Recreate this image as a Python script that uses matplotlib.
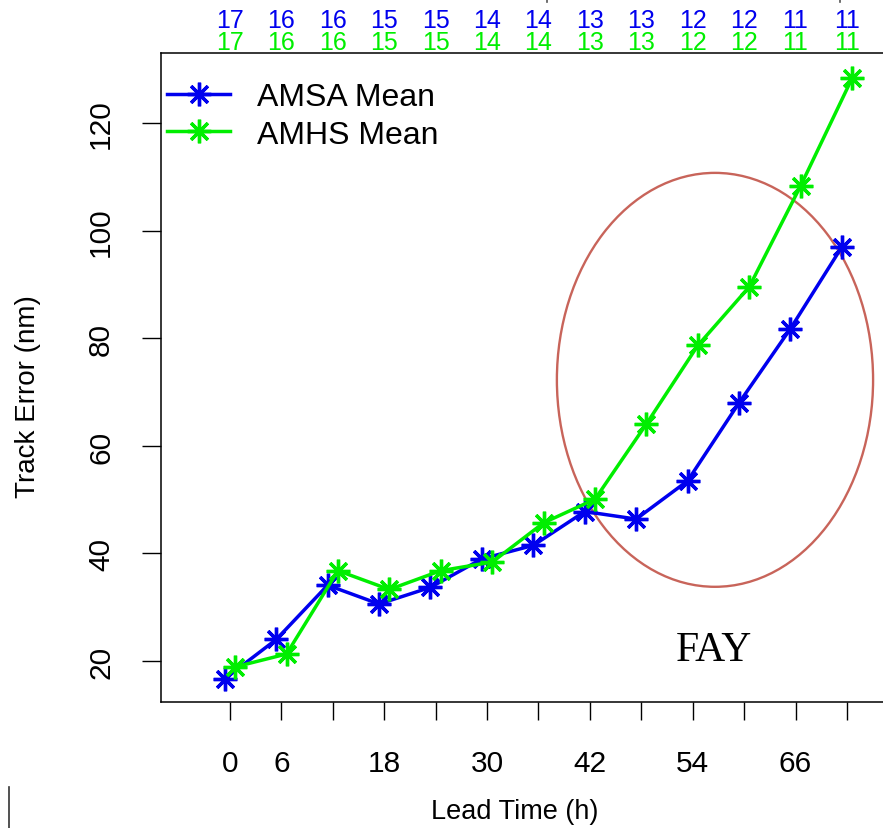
import matplotlib
matplotlib.use("Agg")
import matplotlib.pyplot as plt
import numpy as np
from matplotlib.patches import Ellipse
from matplotlib.lines import Line2D

plt.rcParams['font.family'] = ['Liberation Sans', 'DejaVu Sans']

# data
lead_time = [0, 6, 12, 18, 24, 30, 36, 42, 48, 54, 60, 66, 72]
amsa_mean = [16.7, 24.0, 34.1, 30.6, 33.7, 39.0, 41.5, 47.8, 46.4, 53.5, 68.0, 81.8, 97.0]
amhs_mean = [18.9, 21.3, 36.8, 33.3, 36.8, 38.4, 45.7, 50.1, 64.1, 78.7, 89.6, 108.4, 128.4]
amsa_count = [17, 16, 16, 15, 15, 14, 14, 13, 13, 12, 12, 11, 11]
amhs_count = [17, 16, 16, 15, 15, 14, 14, 13, 13, 12, 12, 11, 11]
xtick_labels = {0: "0", 6: "6", 18: "18", 30: "30", 42: "42", 54: "54", 66: "66"}
yticks = [20, 40, 60, 80, 100, 120]

blue = "#0000ee"
green = "#00ee00"

W, H = 883, 829
fig = plt.figure(figsize=(W / 100, H / 100), dpi=100)
# axes box: left at 161 px, bottom at 703 px, top at 54 px, right runs past the edge
xlo, xhi = -8.05, 80.0
px_per_h = 8.569
ax_w = (xhi - xlo) * px_per_h
ax_h = 703 - 54
ax = fig.add_axes([161 / W, (H - 703) / H, ax_w / W, ax_h / H])
ax.set_xlim(xlo, xhi)
ax.set_ylim(12.37, 133.1)

x = np.array(lead_time)
star = (8, 2, 0)
ax.plot(x - 0.6, amsa_mean, color=blue, lw=2.5, marker=star, ms=17, mew=2.4,
        label="AMSA Mean", clip_on=False)
ax.plot(x + 0.6, amhs_mean, color=green, lw=2.5, marker=star, ms=17, mew=2.4,
        label="AMHS Mean", clip_on=False)

# highlight ellipse + storm name
ell = Ellipse((56.6, 72.3), 36.9, 77.0, fill=False, edgecolor="#c8645a", lw=1.7)
ax.add_patch(ell)
ax.text(56.5, 22.0, "FAY", family="Liberation Serif", fontsize=30,
        ha="center", va="center")

# sample counts above the plot
for xi, nb, ng in zip(lead_time, amsa_count, amhs_count):
    ax.annotate(str(nb), xy=(xi, 1), xycoords=("data", "axes fraction"),
                xytext=(0, (54 - 20.5) * 0.72), textcoords="offset points",
                ha="center", va="center", color=blue, fontsize=18, annotation_clip=False)
    ax.annotate(str(ng), xy=(xi, 1), xycoords=("data", "axes fraction"),
                xytext=(0, (54 - 42.5) * 0.72), textcoords="offset points",
                ha="center", va="center", color=green, fontsize=18, annotation_clip=False)

ax.set_xticks(lead_time)
ax.set_xticklabels([xtick_labels.get(t, "") for t in lead_time])
ax.set_yticks(yticks)
ax.set_yticklabels([str(v) for v in yticks], rotation=90, va="center")
ax.tick_params(axis="x", direction="out", length=13, width=1, pad=21, labelsize=21.5)
ax.tick_params(axis="y", direction="out", length=14, width=1, pad=19, labelsize=21.5)
for sp in ax.spines.values():
    sp.set_linewidth(1.1)

ax.set_xlabel("Lead Time (h)", fontsize=19.5)
ax.xaxis.set_label_coords((515 - 161) / ax_w, -(812 - 703) / ax_h)
ax.set_ylabel("Track Error (nm)", fontsize=20)
ax.yaxis.set_label_coords(-(161 - 28) / ax_w, (703 - 397) / ax_h)
ax.xaxis.label.set_va("center")
ax.yaxis.label.set_va("center")

ax.legend(loc="upper left", bbox_to_anchor=(0.0, 1.0 - 23 / ax_h), frameon=False,
          fontsize=23, handlelength=1.95, handletextpad=0.85, borderaxespad=0.0,
          borderpad=0.2, labelspacing=0.225)

# stray marks at the edges of the original image
fig.add_artist(Line2D([9 / W, 9 / W], [0, (H - 788) / H], color="#333333", lw=1.2))
for xm in (547, 840):
    fig.add_artist(Line2D([xm / W, xm / W], [1, (H - 3) / H], color="#555555", lw=1.2))

fig.savefig("out.png", dpi=100)
